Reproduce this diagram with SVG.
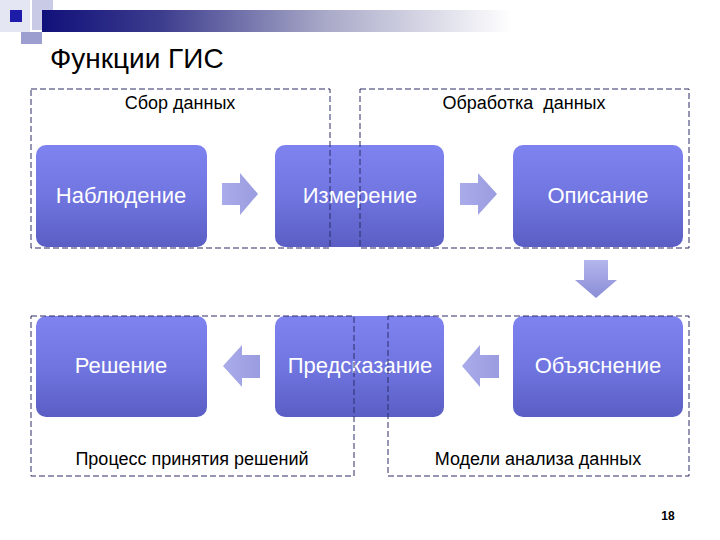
<svg xmlns="http://www.w3.org/2000/svg" width="720" height="540" viewBox="0 0 720 540">
<defs>
<linearGradient id="bar" x1="0" y1="0" x2="1" y2="0">
<stop offset="0" stop-color="#10107a"/>
<stop offset="0.25" stop-color="#3c3c8e"/>
<stop offset="0.6" stop-color="#a8a8c8"/>
<stop offset="1" stop-color="#ffffff"/>
</linearGradient>
<linearGradient id="node" x1="0" y1="0" x2="0" y2="1">
<stop offset="0" stop-color="#7e83f0"/>
<stop offset="0.5" stop-color="#7075e0"/>
<stop offset="1" stop-color="#5a5ec4"/>
</linearGradient>
<linearGradient id="arrH" x1="0" y1="0" x2="1" y2="0">
<stop offset="0" stop-color="#a9abea"/>
<stop offset="1" stop-color="#9a9ce0"/>
</linearGradient>
<linearGradient id="arrV" x1="0" y1="0" x2="0" y2="1">
<stop offset="0" stop-color="#b4b6ee"/>
<stop offset="1" stop-color="#8a8cd6"/>
</linearGradient>
<style>
.box{fill:none;stroke:#2c2c66;stroke-width:1;stroke-dasharray:6 3}
.nd{fill:url(#node)}
.nt{font-family:"Liberation Sans",Arial,sans-serif;font-size:22px;fill:#ffffff;text-anchor:middle}
.lb{font-family:"Liberation Sans",Arial,sans-serif;font-size:18px;fill:#000000;text-anchor:middle}
</style>
</defs>
<rect width="720" height="540" fill="#ffffff"/>
<g id="decoration">
<rect x="0" y="0" width="30" height="32" fill="#e4e6f4"/>
<rect x="32" y="0" width="21" height="30" fill="#c8cae6"/>
<rect x="42" y="10" width="470" height="22" fill="url(#bar)"/>
<rect x="10" y="10" width="12" height="12" fill="#1c1ca8"/>
<rect x="21" y="32" width="21" height="12" fill="#9c9ed0"/>
</g>
<text x="50" y="68" font-family="Liberation Sans,Arial,sans-serif" font-size="28" fill="#000">Функции ГИС</text>
<g id="node-nabl"><rect class="nd" x="36" y="145" width="171" height="102" rx="10"/><text class="nt" x="121" y="203">Наблюдение</text></g>
<g id="node-izm"><rect class="nd" x="275" y="145" width="169" height="102" rx="10"/><text class="nt" x="360" y="203">Измерение</text></g>
<g id="node-opis"><rect class="nd" x="513" y="145" width="170" height="102" rx="10"/><text class="nt" x="598" y="203">Описание</text></g>
<g id="node-resh"><rect class="nd" x="36" y="316" width="171" height="101" rx="10"/><text class="nt" x="121" y="373">Решение</text></g>
<g id="node-pred"><rect class="nd" x="275" y="316" width="169" height="101" rx="10"/><text class="nt" x="360" y="373">Предсказание</text></g>
<g id="node-obya"><rect class="nd" x="513" y="316" width="170" height="101" rx="10"/><text class="nt" x="598" y="373">Объяснение</text></g>
<g id="groups">
<rect class="box" x="31" y="89" width="299" height="159"/>
<rect class="box" x="360" y="89" width="329" height="159"/>
<rect class="box" x="31" y="316" width="323" height="160"/>
<rect class="box" x="388" y="316" width="301" height="160"/>
<text class="lb" x="180" y="109">Сбор данных</text>
<text class="lb" x="524" y="109" xml:space="preserve">Обработка  данных</text>
<text class="lb" x="192" y="465">Процесс принятия решений</text>
<text class="lb" x="538" y="465">Модели анализа данных</text>
</g>
<g id="connectors">
<polygon fill="url(#arrH)" points="222,183 240,183 240,173 258,194 240,215 240,205 222,205"/>
<polygon fill="url(#arrH)" points="460,183 478,183 478,173 497,194 478,215 478,205 460,205"/>
<polygon fill="url(#arrV)" points="584,260 608,260 608,280 617,280 596,298 575,280 584,280"/>
<polygon fill="url(#arrH)" points="260,355 242,355 242,345 223,366 242,387 242,378 260,378"/>
<polygon fill="url(#arrH)" points="499,355 480,355 480,345 462,366 480,387 480,378 499,378"/>
</g>
<text x="668" y="520" font-family="Liberation Sans,Arial,sans-serif" font-size="12" font-weight="bold" fill="#000" text-anchor="middle">18</text>
</svg>
